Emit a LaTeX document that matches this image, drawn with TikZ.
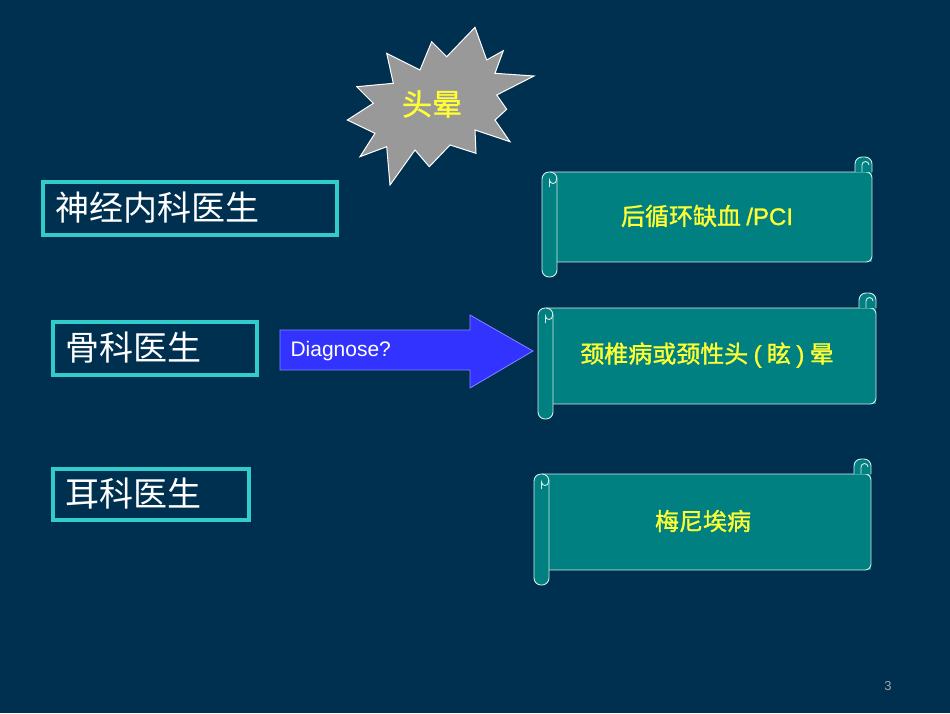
\documentclass[tikz,border=0pt]{standalone}
\usepackage{fontspec}
\setmainfont{Liberation Sans}
\newfontfamily\cjk{Noto Sans CJK SC}
\newfontfamily\cjkb[FakeBold=1.2]{Noto Sans CJK SC}
\newfontfamily\latb[FakeBold=1.2]{Liberation Sans}
\definecolor{bg}{HTML}{00304F}
\definecolor{tealf}{HTML}{008080}
\definecolor{cyanb}{HTML}{33CCCC}
\definecolor{yel}{HTML}{FFFF33}
\definecolor{arrowb}{HTML}{3333FF}
\newcommand{\scrollshape}[4]{%
  % body
  \fill[tealf] (#1+8,#2) rectangle (#3,#4);
  \draw[scl,rounded corners=6pt] (#1+8,#2) -- (#3-8,#2) -- (#3,#2) -- (#3,#4) -- (#1+15,#4);
  % right curl
  \draw[scl,fill=tealf,rounded corners=7pt] (#3-17,#2) -- (#3-17,#2-15) -- (#3,#2-15) -- (#3,#2);
  \draw[scl] (#3-10,#2) -- (#3-10,#2-7) arc (0:180:-3.5);
  % left roll
  \draw[scl,fill=tealf,rounded corners=7pt] (#1,#2) rectangle (#1+15,#4+15);
  \draw[scl] (#1+7.5,#2+15) -- (#1+7.5,#2+8) arc (180:0:3.5) -- (#1+14.5,#2+6);
}
\tikzset{scl/.style={draw=white!85!tealf,line width=0.9pt},
  lbox/.style={draw=cyanb,line width=3.5pt,fill=bg,text=white,font=\cjk\fontsize{34}{36}\selectfont,inner sep=0pt,anchor=north west},
  ytext/.style={text=yel,font=\cjkb\fontsize{24}{26}\selectfont}}
\begin{document}
\begin{tikzpicture}[x=1pt,y=-1pt]
\fill[bg] (0,0) rectangle (950,713);
\useasboundingbox (0,0) rectangle (950,713);
% star
\draw[white,line width=1pt,fill=gray!80] (475,27.3)--(486.7,60)--(503.3,50.7)--(495,73.3)--(534,76)--(496.7,95)--(506.7,109.3)--(495,120)--(510,141.7)--(475,130)--(476,153.3)--(450,145)--(429.3,166.7)--(415,150)--(390,185)--(386.7,146.7)--(360,156.7)--(375,133.3)--(347.3,120)--(373.3,103.3)--(356.7,86.7)--(393.3,83.3)--(386.7,53.3)--(420,70)--(431.7,41.7)--(446.7,56.7)--cycle;
\node[text=yel,font=\cjkb\fontsize{30}{32}\selectfont] (star) at (432,104) {头晕};
% left boxes
\draw[draw=cyanb,line width=3.5pt] (43,182) rectangle (337,235);
\node[text=white,font=\cjk\fontsize{34}{36}\selectfont,anchor=west] (b1) at (52,208) {神经内科医生};
\draw[draw=cyanb,line width=3.5pt] (53,322) rectangle (257,375);
\node[text=white,font=\cjk\fontsize{34}{36}\selectfont,anchor=west] (b2) at (62,348) {骨科医生};
\draw[draw=cyanb,line width=3.5pt] (53,469) rectangle (249,520);
\node[text=white,font=\cjk\fontsize{34}{36}\selectfont,anchor=west] (b3) at (62,494) {耳科医生};
% arrow
\draw[arrowb!60!white,line width=0.8pt,fill=arrowb] (280,330) -- (470,330) -- (470,315) -- (533,351) -- (470,388) -- (470,370) -- (280,370) -- cycle;
\node[text=white,font=\fontsize{21}{23}\selectfont,anchor=west] (dg) at (287,351) {Diagnose?};
% scrolls
\scrollshape{542}{172}{872}{262}
\node[ytext] (s1) at (707,216) {后循环缺血 {\latb /PCI}};
\scrollshape{538}{308}{876}{404}
\node[ytext] (s2) at (707,355) {颈椎病或颈性头 {\latb (} 眩 {\latb )} 晕};
\scrollshape{534}{474}{871}{570}
\node[ytext] (s3) at (703,521) {梅尼埃病};
\node[text=gray!70,font=\fontsize{13}{15}\selectfont] (pg) at (888,686) {3};
\end{tikzpicture}
\end{document}
